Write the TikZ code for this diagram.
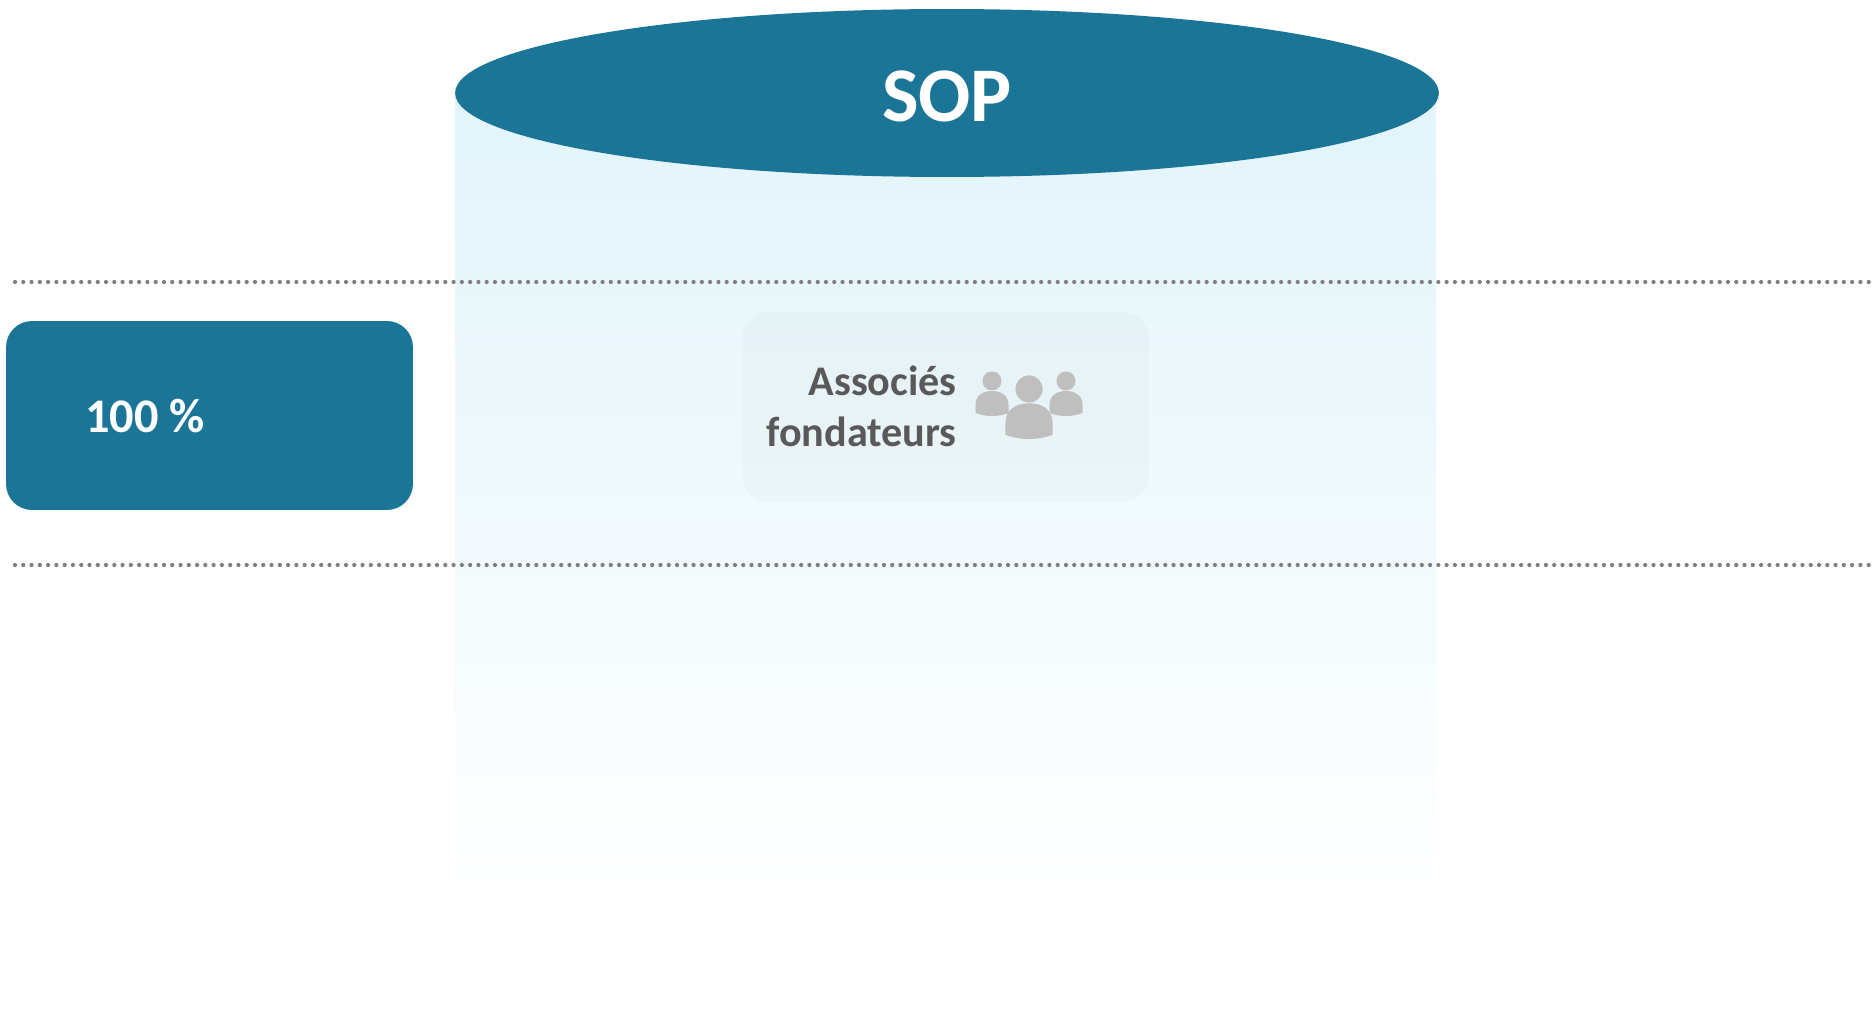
\documentclass[tikz,border=0pt]{standalone}
\usepackage{fontspec}
\setmainfont{Carlito}
\usetikzlibrary{shapes.geometric}

\definecolor{soptide}{HTML}{1A7596}
\definecolor{sopmist}{HTML}{E2F4FA}
\definecolor{labelgrey}{HTML}{595959}
\definecolor{icongrey}{HTML}{BFBFBF}
\definecolor{dotgrey}{HTML}{7F7F7F}

\tikzset{
	levelline/.style={draw=dotgrey,line width=2.4pt,line cap=round,dash pattern=on 0pt off 4.71pt},
	tealbox/.style={fill=soptide,rounded corners=0.52cm,minimum width=8.14cm,minimum height=3.78cm,inner sep=0pt},
	greybox/.style={fill=black,fill opacity=0.02,rounded corners=0.52cm,minimum width=8.14cm,minimum height=3.8cm,inner sep=0pt},
	personbody/.style={fill=icongrey,draw=none}
}

\begin{document}
\begin{tikzpicture}[x=0.02cm,y=-0.02cm]
		\useasboundingbox (0,0) rectangle (1873,1010);
		
		% Draw cylinder body
		\shade [top color=sopmist,bottom color=white] (455,93) rectangle (1436,897);
		
		% Draw cylinder top
		\node (sop) [ellipse,fill=soptide,minimum width=19.68cm,minimum height=3.36cm,inner sep=0pt] at (947,93) {};
		\node (soplabel) [inner sep=0pt,text=white,font=\fontsize{44pt}{44pt}\selectfont\bfseries] at (947,96) {SOP};
		
		% Draw level lines
		\coordinate (upperleft) at (15,282);
		\coordinate (upperright) at (1870,282);
		\coordinate (lowerleft) at (15,565);
		\coordinate (lowerright) at (1870,565);
		\draw [levelline] (upperleft) -- (upperright);
		\draw [levelline] (lowerleft) -- (lowerright);
		
		% Draw share box
		\node (sharebox) [tealbox] at (209.5,415.5) {};
		\node (sharelabel) [anchor=base west,inner sep=0pt,text=white,font=\fontsize{27.5pt}{27.5pt}\selectfont\bfseries] at (85,432) {100 \%};
		
		% Draw founders box
		\node (foundersbox) [greybox] at (945.5,407) {};
		\node (founderslabel) [anchor=base east,align=right,inner sep=0pt,text=labelgrey,font=\fontsize{24pt}{28.5pt}\selectfont\bfseries] at (957,446) {Associés\\fondateurs};
		
		% Draw left person
		\begin{scope}[shift={(992,381)}]
		\fill [personbody] (0,0) circle (9.5);
		\fill [personbody] (-16.5,32) -- (-16.5,24) .. controls (-16.5,15) and (-10,10) .. (0,10) .. controls (10,10) and (16.5,15) .. (16.5,24) -- (16.5,32) .. controls (6,36) and (-6,36) .. (-16.5,32);
		\end{scope}
		
		% Draw right person
		\begin{scope}[shift={(1066,381)}]
		\fill [personbody] (0,0) circle (9.5);
		\fill [personbody] (-16.5,32) -- (-16.5,24) .. controls (-16.5,15) and (-10,10) .. (0,10) .. controls (10,10) and (16.5,15) .. (16.5,24) -- (16.5,32) .. controls (6,36) and (-6,36) .. (-16.5,32);
		\end{scope}
		
		% Draw centre person
		\begin{scope}[shift={(1029,389)},scale=1.43]
		\fill [personbody] (0,0) circle (9.5);
		\fill [personbody] (-16.5,32) -- (-16.5,24) .. controls (-16.5,15) and (-10,10) .. (0,10) .. controls (10,10) and (16.5,15) .. (16.5,24) -- (16.5,32) .. controls (6,36) and (-6,36) .. (-16.5,32);
		\end{scope}
\end{tikzpicture}
\end{document}
